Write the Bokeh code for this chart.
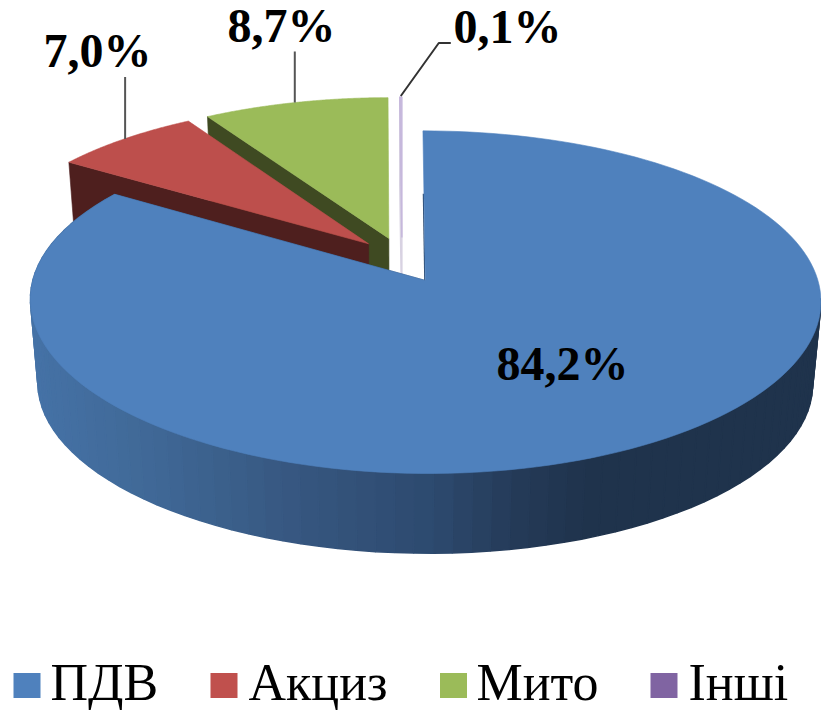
import numpy as np
from bokeh.plotting import figure
from bokeh.embed import file_html
from bokeh.resources import INLINE
from bokeh.core.properties import value

categories = ["ПДВ", "Акциз", "Мито", "Інші"]
shares = [84.2, 7.0, 8.7, 0.1]
share_labels = ["84,2%", "7,0%", "8,7%", "0,1%"]
top_colors = ["#4f81bd", "#bd4f4c", "#9bbb59", "#c6b8dc"]
side_colors = ["#2c4a70", "#4e1f1e", "#3f4a22", "#d8d2e2"]
legend_colors = ["#4f81bd", "#c0504d", "#9bbb59", "#8064a2"]

# projection of the tilted disc onto the picture
CX, CY = 401.5, 259.5
KX, KY, PERSP_X, PERSP_Y = 387.0, 163.4, 0.115, 0.125
EXPLODE_U, EXPLODE_V = 0.125, 0.14
DEPTH, SHRINK = 84.0, 0.98


def project(u, v, low=False):
    x, y = KX * u / (1 + PERSP_X * v), -KY * v / (1 + PERSP_Y * v)
    if low:
        return CX + SHRINK * x, CY + DEPTH + SHRINK * y
    return CX + x, CY + y


def angle(pct):
    return np.radians(pct * 3.6)


def slice_point(a, mid, r=1.0, low=False):
    u = EXPLODE_U * np.sin(mid) + r * np.sin(a)
    v = EXPLODE_V * np.cos(mid) + r * np.cos(a)
    return project(u, v, low)


edges = np.concatenate([[0], np.cumsum(shares)])
mids = angle((edges[:-1] + edges[1:]) / 2)

WALL_X = [30, 150, 300, 430, 520, 590, 821]
WALL_R = [0x45, 0x40, 0x36, 0x2d, 0x24, 0x1f, 0x1f]
WALL_G = [0x72, 0x68, 0x56, 0x4a, 0x3a, 0x33, 0x33]
WALL_B = [0xa6, 0x96, 0x7f, 0x6f, 0x57, 0x4c, 0x4c]

p = figure(width=821, height=710, x_range=(0, 821), y_range=(710, 0),
           output_backend="svg", toolbar_location=None, min_border=0)
p.axis.visible = False
p.grid.visible = False
p.outline_line_color = None
p.background_fill_color = "white"


def draw(xs, ys, color, lw=0.6):
    p.patch(xs, ys, fill_color=color, line_color=color, line_width=lw)


def top_outline(i):
    a = np.linspace(angle(edges[i]), angle(edges[i + 1]), 160)
    rim = [slice_point(t, mids[i]) for t in a]
    c = slice_point(0, mids[i], r=0)
    return [c[0]] + [q[0] for q in rim], [c[1]] + [q[1] for q in rim]


def end_face(i, pct):
    a = angle(pct)
    t0, t1 = slice_point(a, mids[i]), slice_point(a, mids[i], r=0)
    b1, b0 = slice_point(a, mids[i], r=0, low=True), slice_point(a, mids[i], low=True)
    return [t0[0], t1[0], b1[0], b0[0]], [t0[1], t1[1], b1[1], b0[1]]


# back slices first, the big one last
for i in [3, 2, 1]:
    fx, fy = end_face(i, edges[i])
    draw(fx, fy, side_colors[i], 1.5 if i == 3 else 0.6)
    tx, ty = top_outline(i)
    draw(tx, ty, top_colors[i], 1.5 if i == 3 else 0.6)

# big slice: curved wall in narrow bands
fx, fy = end_face(0, edges[1])
draw(fx, fy, side_colors[0])
bands = np.linspace(angle(edges[0]), angle(edges[1]), 121)
for a0, a1 in zip(bands[:-1], bands[1:]):
    t0, t1 = slice_point(a0, mids[0]), slice_point(a1, mids[0])
    b1, b0 = slice_point(a1, mids[0], low=True), slice_point(a0, mids[0], low=True)
    if t0[1] < 300 and t1[1] < 300 and t0[0] > 400:
        continue  # back of the wall, hidden behind the top face
    xm = (t0[0] + t1[0]) / 2
    col = "#%02x%02x%02x" % tuple(int(round(np.interp(xm, WALL_X, s))) for s in (WALL_R, WALL_G, WALL_B))
    draw([t0[0], t1[0], b1[0], b0[0]], [t0[1], t1[1], b1[1], b0[1]], col, 1.5)
# faint inner edge of the big slice near its tip
e0 = slice_point(angle(edges[0]), mids[0], r=0.55)
e1 = slice_point(angle(edges[0]), mids[0], r=0.0)
p.line([e0[0] - 0.6, e1[0] - 0.6], [e0[1], e1[1]], line_color=side_colors[0], line_width=1.2)
tx, ty = top_outline(0)
draw(tx, ty, top_colors[0])

# leader lines
for i, (dx, dy, col) in zip([1, 2], [(1.0, -62, "#555555"), (-0.5, -51, "#555555")]):
    q = slice_point(mids[i], mids[i])
    p.line([q[0] + dx, q[0] + dx], [q[1], q[1] + dy], line_color=col, line_width=2)
q = slice_point(mids[3], mids[3])
p.line([q[0], q[0] + 38, q[0] + 50], [q[1] - 1, q[1] - 54, q[1] - 54], line_color="#333333", line_width=2)

# data labels
label_x = [496, 43, 227, 453]
label_y = [363, 50, 25, 26]
p.text(label_x, label_y, text=share_labels, text_font=value("Liberation Serif"),
       text_font_style="bold", text_font_size="48px", text_color="black",
       text_align="left", text_baseline="alphabetic")

# legend
swatch_x = [13, 210, 439.5, 650]
legend_x = [50, 248, 476, 688]
p.rect([x + 13.5 for x in swatch_x], [685] * 4, width=27, height=25,
       fill_color=legend_colors, line_color=None)
p.text(legend_x, [682] * 4, text=categories, text_font=value("Liberation Serif"),
       text_font_size="52px", text_color="black", text_align="left", text_baseline="alphabetic")

open("out.html", "w").write(file_html(p, INLINE))
